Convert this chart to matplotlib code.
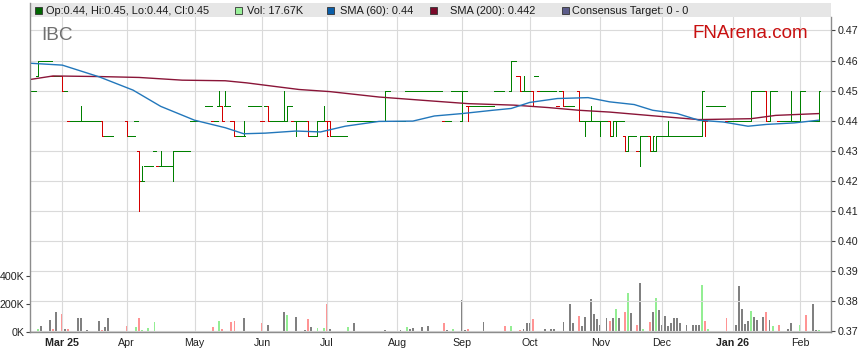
import numpy as np
import pandas as pd
import matplotlib
matplotlib.use('Agg')
from matplotlib import pyplot as plt
from matplotlib.collections import LineCollection
from matplotlib.patches import Rectangle

plt.rcParams['font.family'] = ['Liberation Sans', 'DejaVu Sans']

N = np.nan
first_day = '2025-02-17'   # first bar, 10 weekdays before Mar 3 (= day 0)

#####Daily OHLC (NaN = no trade)
opens = [
    # Feb
    .45, .45, .455, .46, .46, .46, .46, .455, .455, .455,
    # Mar
    .455, .45, .44, .44, .44, .44, .44, *[.44] * 6, .44, .435, .435, .435, N, N, N, N,
    # Apr
    .44, .435, .435, .44, .43, .42, .425, .425, .425, .43, .425, .425, .425, .425, .425, .425,
    .43, .43, .43, .43, .43, .44,
    # May
    .44, .44, N, N, .445, .445, .44, .44, .445, .445, .445, .445, .44, .44, .435, .435, .435, N,
    .445, .445, .445, .445,
    # Jun
    .44, .445, .445, .44, .44, .44, .44, .44, .44, .445, .44, .44, .44, .44, .44, .44, .435, .435,
    .435, .44, .44,
    # Jul
    .44, .44, *[.435] * 5, *[.44] * 12, .44, .45, N, .44,
    # Aug
    *[.44] * 3, *[.45] * 12, *[.44] * 3, *[.45] * 3,
    # Sep
    .44, .45, .445, *[.445] * 8, .45, .45, .45, N, N, .45, .46, .455, .455, .45, .45,
    # Oct
    .45, .45, .455, *[.45] * 6, .445, .45, .45, .445, .445, .445, N, .45, .44, .44, .44, .44, .44, .44,
    # Nov
    .44, .44, .44, .44, .435, .44, .44, .44, .435, .43, .435, .435, .43, .43, .435, .435, .435,
    .43, .43, .435,
    # Dec
    .435, .435, .435, *[.435] * 10, .435, .44, *[.445] * 6, .44, .44,
    # Jan
    *[.44] * 6, .44, .45, .45, .45, .45, .45, .44, .45, .45, .44, .44, .44, .44, .44, .44, .44,
    # Feb
    .44, .45, .44, .44, .44, .44, .44,
]
highs = [
    .45, .45, .46, .46, .46, .46, .46, .455, .455, .455,
    .455, .45, .44, .44, .44, .44, .445, *[.44] * 6, .44, .435, .435, .435, N, N, N, N,
    .44, .435, .435, .44, .43, .425, .425, .425, .425, .43, .425, .43, .425, .425, .425, .43,
    .43, .43, .43, .43, .43, .44,
    .44, .44, N, N, .445, .445, .44, .44, .45, .445, .45, .445, .44, .44, .435, .435, .44, N,
    .445, .445, .445, .445,
    .44, .445, .445, .44, .44, .44, .44, .45, .445, .445, .44, .44, .44, .44, .44, .44, .435, .435,
    .44, .44, .445,
    .44, .44, *[.435] * 5, *[.44] * 12, .45, .45, N, .44,
    *[.44] * 3, *[.45] * 12, *[.44] * 3, *[.45] * 3,
    .45, .45, .445, *[.445] * 8, .45, .45, .45, N, N, .46, .46, .455, .455, .455, .45,
    .45, .45, .455, *[.45] * 6, .445, .45, .45, .445, .445, .445, N, .45, .44, .44, .44, .445, .44, .44,
    .44, .44, .44, .44, .44, .44, .44, .44, .435, .435, .435, .435, .43, .435, .435, .435, .435,
    .435, .435, .435,
    .435, .435, .44, *[.435] * 10, .45, .44, *[.445] * 6, .44, .44,
    *[.44] * 6, .45, .45, .45, .45, .45, .45, .45, .45, .45, .44, .44, .44, .44, .45, .44, .44,
    .45, .45, .44, .44, .44, .44, .45,
]
lows = [
    .45, .45, .455, .46, .46, .46, .46, .455, .455, .455,
    .45, .45, .44, .44, .44, .44, .44, *[.44] * 6, .435, .435, .435, .435, N, N, N, N,
    .435, .435, .435, .44, .41, .42, .425, .425, .425, .43, .425, .425, .425, .425, .425, .42,
    .43, .43, .43, .43, .43, .44,
    .44, .44, N, N, .445, .445, .44, .44, .445, .44, .445, .445, .44, .435, .435, .435, .435, N,
    .445, .445, .445, .445,
    .44, .445, .44, .44, .44, .44, .44, .44, .44, .445, .44, .435, .44, .44, .44, .435, .435, .435,
    .435, .44, .44,
    .435, .435, *[.435] * 5, *[.44] * 12, .44, .45, N, .44,
    *[.44] * 3, *[.45] * 12, *[.44] * 3, *[.45] * 3,
    .44, .45, .44, *[.445] * 8, .45, .45, .45, N, N, .45, .46, .455, .45, .45, .45,
    .45, .445, .455, *[.45] * 6, .445, .45, .445, .445, .445, .445, N, .44, .44, .435, .44, .44, .44, .44,
    .435, .44, .44, .435, .435, .435, .44, .44, .43, .43, .435, .435, .43, .425, .435, .435, .43,
    .43, .43, .435,
    .435, .435, .435, *[.435] * 10, .435, .435, *[.445] * 6, .44, .44,
    *[.44] * 6, .44, .45, .45, .45, .45, .44, .44, .45, .45, .44, .44, .44, .44, .44, .44, .44,
    .44, .45, .44, .44, .44, .44, .44,
]
closes = [
    .45, .45, .46, .46, .46, .46, .46, .455, .455, .455,
    .45, .45, .44, .44, .44, .44, .44, *[.44] * 6, .435, .435, .435, .435, N, N, N, N,
    .435, .435, .435, .44, .42, .42, .425, .425, .425, .43, .425, .425, .425, .425, .425, .43,
    .43, .43, .43, .43, .43, .44,
    .44, .44, N, N, .445, .445, .44, .44, .445, .44, .445, .445, .44, .435, .435, .435, .435, N,
    .445, .445, .445, .445,
    .44, .445, .44, .44, .44, .44, .44, .44, .445, .445, .44, .44, .44, .44, .44, .435, .435, .435,
    .44, .44, .44,
    .435, .435, *[.435] * 5, *[.44] * 12, .45, .45, N, .44,
    *[.44] * 3, *[.45] * 12, *[.44] * 3, *[.45] * 3,
    .45, .45, .445, *[.445] * 8, .45, .45, .45, N, N, .46, .46, .455, .45, .45, .45,
    .45, .445, .455, *[.45] * 6, .445, .45, .445, .445, .445, .445, N, .44, .44, .44, .44, .44, .44, .44,
    .44, .44, .44, .435, .44, .44, .44, .44, .43, .435, .435, .435, .43, .435, .435, .435, .43,
    .435, .435, .435,
    .435, .435, .435, *[.435] * 10, .45, .44, *[.445] * 6, .44, .44,
    *[.44] * 6, .45, .45, .45, .45, .45, .44, .45, .45, .45, .44, .44, .44, .44, .44, .44, .44,
    .45, .45, .44, .44, .44, .44, .45,
]

#####Volume (day number relative to Mar 3, thousands, up/down/neutral)
vol_day = [-9, -8, -7, -4, -3, -2, 0, 1, 2, 5, 6, 8, 12, 13, 14, 15, 21, 24, 25, 26, 27, 28, 30,
           44, 49, 50, 51, 52, 53, 55, 56, 59, 65, 67, 68, 71, 72, 73, 76, 79, 80, 81, 83, 85, 86, 87,
           93, 95, 96, 104, 105, 108, 110, 112, 113, 114, 117, 119, 124, 125, 127, 128, 129, 130,
           131, 132, 137, 143, 144, 146, 149, 150, 151, 152, 153, 157, 159, 160, 162, 163, 165, 166,
           167, 168, 169, 170, 171, 172, 173, 174, 175, 177, 178, 179, 180, 181, 182, 183, 184, 185,
           187, 188, 189, 191, 192, 193, 194, 195, 196, 197, 198, 199, 200, 201, 202, 203, 205, 206,
           207, 208, 209, 210, 216, 219, 220, 221, 222, 223, 224, 225, 226, 228, 229, 230, 231, 233,
           235, 236, 237, 240, 242, 244, 245, 246]
vol_k = [5, 19, 41, 84, 19, 142, 127, 19, 19, 98, 98, 12, 77, 12, 34, 98, 41, 34, 98, 12, 5, 26, 72,
         5, 34, 5, 77, 19, 5, 70, 77, 98, 62, 48, 5, 5, 142, 120, 106, 12, 91, 34, 26, 26, 200, 19,
         34, 62, 5, 5, 12, 5, 12, 34, 19, 26, 34, 41, 62, 12, 19, 5, 5, 228,
         12, 19, 70, 5, 41, 41, 12, 19, 62, 62, 91, 19, 19, 19, 5, 70, 200, 62,
         5, 113, 41, 106, 5, 235, 127, 91, 48, 98, 77, 98, 163, 98, 5, 142, 278, 134,
         48, 350, 19, 70, 142, 242, 156, 48, 113, 41, 62, 98, 98, 62, 5, 48, 48, 48,
         48, 336, 77, 19, 98, 48, 328, 163, 55, 77, 149, 106, 84, 106, 142, 84, 41, 48,
         5, 19, 62, 48, 120, 200, 12, 17.67]
vol_dir = ['n', 'g', 'n', 'n', 'r', 'n', 'r', 'n', 'r', 'n', 'n', 'n', 'n', 'r', 'n', 'n', 'r', 'g', 'r', 'g', 'g', 'g', 'g',
           'g', 'r', 'n', 'g', 'r', 'g', 'r', 'r', 'n', 'r', 'n', 'n', 'n', 'n', 'g', 'n', 'n', 'r', 'n', 'g', 'g', 'r', 'n',
           'g', 'n', 'n', 'n', 'n', 'r', 'n', 'g', 'n', 'n', 'n', 'n', 'r', 'n', 'g', 'n', 'n', 'n',
           'n', 'r', 'n', 'n', 'r', 'g', 'r', 'n', 'n', 'n', 'r', 'n', 'n', 'n', 'g', 'n', 'n', 'n',
           'n', 'r', 'n', 'n', 'n', 'n', 'n', 'n', 'n', 'n', 'r', 'n', 'g', 'n', 'n', 'r', 'g', 'n',
           'r', 'n', 'g', 'r', 'n', 'g', 'n', 'n', 'n', 'n', 'n', 'n', 'n', 'n', 'n', 'n', 'n', 'n',
           'n', 'g', 'r', 'g', 'r', 'n', 'n', 'n', 'n', 'n', 'g', 'n', 'n', 'n', 'r', 'n', 'g', 'r',
           'n', 'n', 'n', 'g', 'r', 'n', 'n', 'g']

#####Moving averages
sma60_day = [-10, 0, 12, 23, 32, 43, 53, 59, 66, 76, 84, 92, 103, 114, 121, 130, 140, 146, 152, 161,
             171, 178, 186, 192, 200, 207, 215, 223, 229, 238, 246]
sma60 = [.4591, .4585, .4546, .4502, .4448, .4402, .4377, .4357, .4359, .4366, .4363, .4382, .4398,
         .4399, .4416, .4424, .4435, .4441, .4461, .4474, .4477, .4463, .4454, .4435, .4424, .4402,
         .4396, .4382, .4388, .4393, .4402]
sma200_day = [-10, -3, 12, 25, 39, 53, 60, 70, 77, 87, 103, 120, 132, 147, 158, 168, 178, 194, 207,
              224, 232, 246]
sma200 = [.4538, .4549, .4547, .4544, .4535, .4533, .4526, .4513, .4504, .4497, .4479, .4466, .4457,
          .4452, .4444, .4435, .4429, .4415, .4404, .4407, .4418, .4424]

legend_labels = ['Op:0.44, Hi:0.45, Lo:0.44, Cl:0.45', 'Vol: 17.67K', 'SMA (60): 0.44',
                 'SMA (200): 0.442', 'Consensus Target: 0 - 0']

#####Layout
W, H = 859, 363
fig = plt.figure(figsize=(W / 100, H / 100), dpi=100)
rect = [30 / W, 1 - 332 / H, 801 / W, 329 / H]
axv = fig.add_axes(rect)
ax = fig.add_axes(rect)
ax.patch.set_visible(False)

n = len(closes)
dates = pd.bdate_range(first_day, periods=n)
x = np.arange(n) - 10
o = np.array(opens, dtype=float)
h = np.array(highs, dtype=float)
l = np.array(lows, dtype=float)
c = np.array(closes, dtype=float)

GREEN, RED = '#008000', '#d40000'
tick = 0.56   # open/close tick length, slightly over half a day so flat runs join up
segs, cols = [], []
prev = np.nan
for i in range(n):
    if np.isnan(c[i]):
        continue
    if c[i] < o[i] or (c[i] == o[i] and c[i] < prev):
        col = RED
    else:
        col = GREEN
    prev = c[i]
    segs.append([(x[i] - tick, o[i]), (x[i], o[i])])
    segs.append([(x[i], c[i]), (x[i] + tick, c[i])])
    cols += [col, col]
    if h[i] > l[i]:
        segs.append([(x[i], l[i]), (x[i], h[i])])
        cols.append(col)
ax.add_collection(LineCollection(segs, colors=cols, linewidths=0.5, antialiased=False, zorder=3))

ax.plot(sma200_day, sma200, color='#8a1538', lw=1.0, zorder=4)
ax.plot(sma60_day, sma60, color='#2277bb', lw=1.0, zorder=4)

vcol = {'g': '#93ee93', 'r': '#ff9494', 'n': '#808080'}
axv.bar(vol_day, np.array(vol_k) * 1000, width=0.62, color=[vcol[d] for d in vol_dir], zorder=2)

xlim = (-10.5, 250.0)
ylo, yhi = 0.37 - 0.5 / 3010, 0.47 + 27.5 / 3010
ax.set_xlim(xlim)
axv.set_xlim(xlim)
ax.set_ylim(ylo, yhi)
axv.set_ylim(0, 2.37e6)

# month ticks
mstart, mlab, mbold = [], [], []
for (yy, mm), grp in pd.Series(range(n), index=dates).groupby([dates.year, dates.month]):
    d0 = grp.index[0]
    if d0.day > 3:
        continue
    mstart.append(x[grp.iloc[0]])
    first = len(mstart) == 1 or mm == 1
    mlab.append(d0.strftime('%b %y') if first else d0.strftime('%b'))
    mbold.append(first)
ax.set_xticks(mstart)
ax.set_xticklabels(mlab)
for t, b in zip(ax.get_xticklabels(), mbold):
    if b:
        t.set_fontweight('bold')

pt = np.round(np.arange(0.37, 0.4701, 0.01), 2)
ax.set_yticks(pt)
ax.set_yticklabels([f'{v:.2f}' for v in pt])
ax.yaxis.tick_right()
axv.set_yticks([0, 2e5, 4e5])
axv.set_yticklabels(['0K', '200K', '400K'])

ax.grid(True, color='#dadada', lw=0.8)
ax.set_axisbelow(True)
ax.tick_params(axis='x', length=0, pad=4.5, labelsize=7.7, labelcolor='#222222')
ax.tick_params(axis='y', length=3, width=0.8, color='#444444', pad=1.5, labelsize=7.7,
               labelcolor='#222222')
axv.tick_params(axis='y', length=3, width=0.8, color='#444444', pad=1.0, labelsize=7.7,
                labelcolor='#222222')
axv.tick_params(axis='x', bottom=False, labelbottom=False)
for s in axv.spines.values():
    s.set_visible(False)
ax.spines['top'].set_visible(False)
for k in ('left', 'right', 'bottom'):
    ax.spines[k].set_color('#8c8c8c')
    ax.spines[k].set_linewidth(1.0)
    ax.spines[k].set_zorder(7)
ax.spines['right'].set_bounds(ylo, 0.47 + 13.5 / 3010)

# legend band
band_h = 14 / 329
ax.add_patch(Rectangle((0, 1 - band_h), 1, band_h, transform=ax.transAxes, fc='#e6e6e6',
                       ec='none', zorder=6, clip_on=False))
sq_x = [35, 235, 327, 430, 562]
tx_x = [46.5, 247, 340, 450, 572]
sq_c = ['#006600', '#99f099', '#0a5ea8', '#7a0a2a', '#5c5c8a']
for sx, tx, sc, lab in zip(sq_x, tx_x, sq_c, legend_labels):
    fig.add_artist(Rectangle((sx / W, 1 - 13.5 / H), 6.5 / W, 7 / H, transform=fig.transFigure,
                             fc=sc, ec='#333333', lw=0.6))
    fig.text(tx / W, 1 - 14 / H, lab, fontsize=7.9, color='#1a1a1a', va='baseline')

fig.text(41.5 / W, 1 - 40 / H, 'IBC', fontsize=13.7, color='#707070', va='baseline')
fig.text(692 / W, 1 - 38.5 / H, 'FNArena.com', fontsize=13.5, color='#c81010', va='baseline')

fig.savefig('out.png', dpi=100)
